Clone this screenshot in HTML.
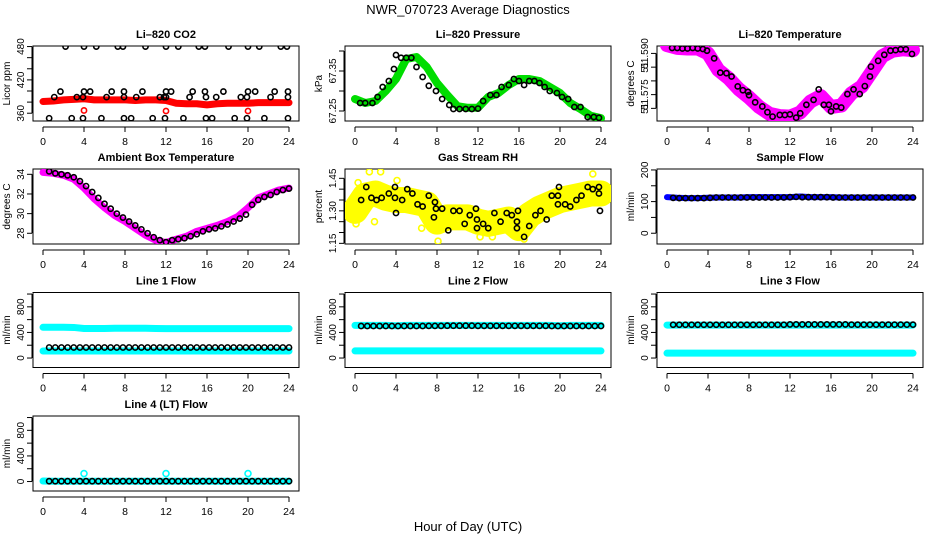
<!DOCTYPE html>
<html><head><meta charset="utf-8"><style>
html,body{margin:0;padding:0;background:#fff}
svg{display:block}
text{font-family:"Liberation Sans",sans-serif;fill:#000}
</style></head><body>
<svg id="chart" width="936" height="540" viewBox="0 0 936 540" xmlns="http://www.w3.org/2000/svg">
<text x="468" y="14" font-size="13" text-anchor="middle">NWR_070723  Average Diagnostics</text>
<text x="468" y="531" font-size="13" text-anchor="middle">Hour of Day (UTC)</text>
</svg>
<script>
// shared hour positions for regularly sampled black circles
const hrs40 = [0.6,1.2,1.8,2.4,3.0,3.6,4.2,4.8,5.4,6.0,6.6,7.2,7.8,8.4,9.0,9.6,10.2,10.8,11.4,12.0,12.6,13.2,13.8,14.4,15.0,15.6,16.2,16.8,17.4,18.0,18.6,19.2,19.8,20.4,21.0,21.6,22.2,22.8,23.4,24.0];
const bandHrs = [0,1,2,3,4,5,6,7,8,9,10,11,12,13,14,15,16,17,18,19,20,21,22,23,24];
const xTicks = [0,4,8,12,16,20,24];

// CO2
const co2BlackX = [2.2,4,5.2,7.3,7.8,10,12,13.2,15.2,15.8,18.1,20,21.1,23.2,23.8, 1.7,4,4.6,6.7,7.9,9.7,12,12.5,14.6,15.8,17.6,20,20.7,22.6,23.9, 1.1,3.3,3.9,6.2,7.9,9.1,11.4,11.8,12,14.3,15.9,16.9,19.3,19.9,22.2,23.9, 0.6,2.8,3.9,5.7,7.9,8.6,10.7,11.9,13.7,15.9,16.5,18.7,19.9,21.6,23.9];
const co2BlackY = [480,480,480,480,480,480,480,480,480,480,480,480,480,480,480, 399,399,399,399,399,399,399,399,399,399,399,399,399,399,399, 389,389,389,389,389,389,389,389,389,389,389,389,389,389,389,389, 351,351,351,351,351,351,351,351,351,351,351,351,351,351,351];
const co2Red = [381,382,384,385,386,384,384,384,384,383,384,384,383,378,377,377,375,377,378,378,378,379,379,379,379];
const co2RedPtsX = [4,12,20];
const co2RedPtsY = [365,364,364];

// Pressure
const presX = [0.5,1,1.7,2.2,2.7,3.3,3.8,4,4.5,5,5.5,6,6.6,7.2,7.9,8.5,9.2,9.6,10.2,10.8,11.4,12,12.5,13.2,13.8,14.3,15,15.5,16,16.5,17,17.5,18,18.5,19,19.7,20.2,20.8,21.4,22,22.7,23.3,23.8];
const presY = [67.27,67.27,67.27,67.285,67.31,67.325,67.355,67.39,67.383,67.383,67.383,67.36,67.335,67.313,67.30,67.28,67.265,67.255,67.255,67.255,67.255,67.256,67.275,67.29,67.29,67.31,67.315,67.33,67.325,67.315,67.325,67.325,67.32,67.31,67.30,67.295,67.285,67.28,67.26,67.26,67.235,67.235,67.233];
const presGreen = [67.28,67.27,67.275,67.3,67.33,67.38,67.385,67.36,67.32,67.29,67.262,67.258,67.258,67.285,67.295,67.315,67.33,67.33,67.325,67.31,67.295,67.27,67.255,67.238,67.232];

// Li-820 temperature
const ltX = [0.5,1,1.5,2,2.5,3,3.5,3.9,4.6,5.2,5.8,6.3,6.9,7.4,7.9,8,8.6,9.3,9.8,10.3,11,11.5,12,12.6,13,13.6,14.3,14.8,15.3,15.8,16,16.5,17,17.6,18.2,18.8,19.3,19.8,19.9,20.6,21.2,21.8,22.3,22.8,23.3,23.9];
const ltY = [51.592,51.592,51.5918,51.5918,51.592,51.5918,51.5916,51.591,51.5882,51.583,51.5828,51.5816,51.578,51.5766,51.576,51.5748,51.5722,51.5707,51.5686,51.567,51.5676,51.5676,51.5678,51.5666,51.5682,51.5713,51.5731,51.5769,51.5713,51.5713,51.5689,51.5707,51.5703,51.5752,51.5769,51.5752,51.5781,51.5816,51.5852,51.5873,51.5895,51.591,51.5912,51.5915,51.5915,51.5898];
const ltBand = [51.593,51.592,51.5918,51.5918,51.590,51.584,51.581,51.577,51.574,51.5705,51.568,51.5672,51.567,51.5685,51.5725,51.5745,51.5705,51.571,51.5755,51.578,51.5835,51.589,51.591,51.5915,51.5912];

// Ambient box temp
const ambBand = [34.2,34.1,33.9,33.5,32.6,31.5,30.6,29.8,29.2,28.5,27.8,27.3,27.05,27.4,27.7,28.2,28.5,28.8,29.2,29.7,30.6,31.6,32,32.4,32.6];
const ambY = [34.3,34.1,34.0,33.9,33.7,33.3,32.8,32.2,31.6,31.0,30.5,30.0,29.6,29.2,28.8,28.4,28.0,27.6,27.3,27.1,27.3,27.4,27.5,27.7,27.9,28.2,28.4,28.5,28.7,28.9,29.2,29.5,29.9,30.9,31.4,31.7,31.9,32.2,32.4,32.55];

// Gas stream RH
const rhX = [0.6,1.1,1.6,2.1,2.6,3.3,3.9,3.9,4.0,4.6,5.1,5.6,6.1,6.6,7.2,7.8,7.9,7.7,8.5,9.1,9.6,10.2,10.7,11.2,11.8,11.9,11.9,12.5,13.0,13.6,14.2,14.8,15.3,15.8,15.9,15.8,16.5,17.0,17.6,18.1,18.7,19.2,19.8,19.9,19.8,20.5,21.0,21.6,22.1,22.7,23.2,23.8,23.8,23.9];
const rhY = [1.35,1.41,1.36,1.35,1.36,1.38,1.36,1.41,1.29,1.35,1.40,1.38,1.33,1.32,1.37,1.34,1.31,1.27,1.31,1.21,1.30,1.30,1.24,1.28,1.31,1.26,1.22,1.24,1.22,1.29,1.25,1.29,1.28,1.25,1.30,1.22,1.18,1.23,1.28,1.30,1.26,1.37,1.33,1.41,1.37,1.33,1.32,1.35,1.37,1.41,1.40,1.41,1.38,1.30];
const rhBand = [1.30,1.37,1.38,1.36,1.35,1.35,1.34,1.33,1.25,1.27,1.27,1.27,1.25,1.24,1.25,1.26,1.22,1.28,1.31,1.33,1.35,1.36,1.37,1.38,1.38];
const rhOutX = [1.4,2.5,8.1,1.9,0.1,16.5,23.2,6.5,12.2,0.3,4.1,13.4];
const rhOutY = [1.48,1.48,1.16,1.25,1.24,1.17,1.47,1.22,1.18,1.43,1.44,1.18];

// Flows
const sampleBand = [114,112,111,111,112,113,113,113,114,114,114,114,114,116,114,114,114,113,113,113,113,113,113,113,113];
const sampleY = [112,111,111,111,111,111,112,113,113,113,113,113,113,113,113,113,113,113,113,114,115,114,114,114,114,114,113,113,113,113,113,113,113,113,113,113,113,113,113,113];
const l1High = [480,480,480,478,462,462,462,465,465,465,465,462,460,460,460,460,460,460,460,460,460,460,460,460,460];
const l1Low = [110,110,110,110,110,110,110,110,110,110,110,110,110,110,110,110,110,110,110,110,110,110,110,110,110];
const l1Y = [165,165,165,165,165,165,165,165,165,165,165,165,165,165,165,165,165,165,165,165,165,165,165,165,165,165,165,165,165,165,165,165,165,165,165,165,165,165,165,165];
const l2High = [510,510,510,510,505,510,510,510,510,510,510,510,510,510,510,510,510,510,510,510,505,510,510,510,510];
const l2Low = [111,111,111,111,111,111,111,111,111,111,111,111,111,111,111,111,111,111,111,111,111,111,111,111,111];
const l2Y = [500,500,500,500,500,500,500,500,500,500,500,502,502,502,505,505,505,505,505,503,503,503,503,503,503,503,503,503,503,503,503,500,500,500,500,500,500,500,500,500];
const l3High = [515,515,515,515,515,515,515,515,515,515,515,515,515,515,515,515,515,515,515,515,515,515,515,515,515];
const l3Low = [76,76,76,76,76,76,76,76,76,76,76,76,76,76,76,76,76,76,76,76,76,76,76,76,76];
const l3Y = [520,520,520,520,520,520,520,520,520,520,520,520,520,520,520,520,520,520,520,525,525,525,525,525,525,525,525,525,525,522,522,522,522,522,522,522,522,522,522,522];
const l4Low = [8,5,5,5,5,5,5,5,5,5,5,5,5,5,5,5,5,5,5,5,5,5,5,5,5];
const l4Y = [5,5,5,5,5,5,5,5,5,5,5,5,5,5,5,5,5,5,5,5,5,5,5,5,5,5,5,5,5,5,5,5,5,5,5,5,5,5,5,5];
const l4SpikeX = [4,12,20];
const l4SpikeY = [125,125,125];

const flowTicks = [0,200,400,600,800,1000];
const flowLabels = ["0","","400","","800",""];

const NS = "http://www.w3.org/2000/svg";
const svg = document.getElementById('chart');
const colX0 = [43,355,667];
const rowTop = [46,169,292.5,416];
const plotW = 246, boxH = 75;

function mk(tag, attrs, parent){
  const e = document.createElementNS(NS, tag);
  for (const k in attrs) e.setAttribute(k, attrs[k]);
  (parent||svg).appendChild(e);
  return e;
}

function panel(name, col, row, title, ylab, vbot, vtop, yTicks, yLabels){
  const x0 = colX0[col], top = rowTop[row];
  const g = mk('g', {});
  
  
  const xs = h => x0 + h / 24 * plotW;
  const ys = v => top + boxH - (v - vbot) / (vtop - vbot) * boxH;
  const bl = x0 - 10, br = x0 + plotW + 10, bb = top + boxH;
  const box = mk('rect', {x:bl, y:top, width:br-bl, height:boxH, fill:'none', stroke:'#000', 'stroke-width':1}, g);
  
  
  const t = mk('text', {x:(bl+br)/2, y:top-8, 'font-size':11, 'font-weight':'bold', 'text-anchor':'middle'}, g);
  t.textContent = title;
  
  
  // x axis
  const xa = mk('g', {}, g);
  
  
  mk('line', {x1:xs(0), x2:xs(24), y1:bb+6, y2:bb+6, stroke:'#000'}, xa);
  xTicks.forEach(h => {
    mk('line', {x1:xs(h), x2:xs(h), y1:bb+6, y2:bb+11, stroke:'#000'}, xa);
    const tl = mk('text', {x:xs(h), y:bb+24, 'font-size':10.5, 'text-anchor':'middle'}, xa);
    tl.textContent = h;
  });
  // y axis
  const ya = mk('g', {}, g);
  
  
  const ax = bl - 1;
  mk('line', {x1:ax, x2:ax, y1:ys(yTicks[0]), y2:ys(yTicks[yTicks.length-1]), stroke:'#000'}, ya);
  yTicks.forEach((v,i) => {
    mk('line', {x1:ax-5, x2:ax, y1:ys(v), y2:ys(v), stroke:'#000'}, ya);
    if (yLabels[i]) {
      const tl = mk('text', {x:0, y:0, 'font-size':10, 'text-anchor':'middle', transform:`translate(${ax-8},${ys(v)}) rotate(-90)`}, ya);
      tl.textContent = yLabels[i];
    }
  });
  const yl = mk('text', {x:0, y:0, 'font-size':10, 'text-anchor':'middle', transform:`translate(${bl-23},${top+boxH/2}) rotate(-90)`}, g);
  yl.textContent = ylab;
  
  
  const clip = 'clip-' + name;
  const cp = mk('clipPath', {id:clip}, g);
  mk('rect', {x:bl, y:top, width:br-bl, height:boxH}, cp);
  const data = mk('g', {'clip-path':`url(#${clip})`}, g);
  return {
    band(hArr, vArr, color, w, label){
      const pl = mk('polyline', {points:hArr.map((h,i)=>xs(h)+','+ys(vArr[i])).join(' '), fill:'none', stroke:color, 'stroke-width':w, 'stroke-linejoin':'round', 'stroke-linecap':'round'}, data);
      
      
    },
    pts(hArr, vArr, color, label, r){
      const pg = mk('g', {}, data);
      
      
      hArr.forEach((h,i) => {
        mk('circle', {cx:xs(h), cy:ys(vArr[i]), r:r||2.6, fill:'none', stroke:color, 'stroke-width':1.6}, pg);
      });
    }
  };
}

// Row 1
let p = panel('co2', 0, 0, 'Li\u2013820 CO2', 'Licor ppm', 346, 481, [360,380,400,420,440,460,480], ['360','','','420','','','480']);
p.band(bandHrs, co2Red, '#ff0000', 7, 'co2-red-band');
p.pts(co2RedPtsX, co2RedPtsY, '#ff0000', 'co2-red-points');
p.pts(co2BlackX, co2BlackY, '#000', 'co2-black-points');

p = panel('pressure', 1, 0, 'Li\u2013820 Pressure', 'kPa', 67.225, 67.4125, [67.25,67.30,67.35,67.40], ['67.25','','67.35','']);
p.band(bandHrs, presGreen, '#00dd00', 8, 'pressure-green-band');
p.pts(presX, presY, '#000', 'pressure-black-points');

p = panel('li-temp', 2, 0, 'Li\u2013820 Temperature', 'degrees C', 51.5654, 51.5927, [51.570,51.575,51.580,51.585,51.590], ['51','51.575','','51','51.590']);
p.band(bandHrs, ltBand, '#ff00ff', 14, 'li-temp-magenta-band');
p.pts(ltX, ltY, '#000', 'li-temp-black-points');

// Row 2
p = panel('ambient', 0, 1, 'Ambient Box Temperature', 'degrees C', 26.91, 34.54, [28,30,32,34], ['28','30','32','34']);
p.band(bandHrs, ambBand, '#ff00ff', 7, 'ambient-magenta-band');
p.pts(hrs40, ambY, '#000', 'ambient-black-points');

p = panel('rh', 1, 1, 'Gas Stream RH', 'percent', 1.147, 1.493, [1.15,1.20,1.25,1.30,1.35,1.40,1.45], ['1.15','','','1.30','','','1.45']);
p.band(bandHrs, rhBand, '#ffff00', 26, 'rh-yellow-band');
p.pts(rhOutX, rhOutY, '#ffff00', 'rh-yellow-points', 3);
p.pts(rhX, rhY, '#000', 'rh-black-points');

p = panel('sample-flow', 2, 1, 'Sample Flow', 'ml/min', -34, 203, [0,50,100,150,200], ['0','','100','','200']);
p.band(bandHrs, sampleBand, '#0000ff', 6, 'sample-blue-band');
p.pts(hrs40, sampleY, '#000', 'sample-black-points');

// Row 3
p = panel('line1', 0, 2, 'Line 1 Flow', 'ml/min', -148, 1024, flowTicks, flowLabels);
p.band(bandHrs, l1High, '#00ffff', 7, 'line1-cyan-high');
p.band(bandHrs, l1Low, '#00ffff', 7, 'line1-cyan-low');
p.pts(hrs40, l1Y, '#000', 'line1-black-points');

p = panel('line2', 1, 2, 'Line 2 Flow', 'ml/min', -148, 1024, flowTicks, flowLabels);
p.band(bandHrs, l2High, '#00ffff', 7, 'line2-cyan-high');
p.band(bandHrs, l2Low, '#00ffff', 7, 'line2-cyan-low');
p.pts(hrs40, l2Y, '#000', 'line2-black-points');

p = panel('line3', 2, 2, 'Line 3 Flow', 'ml/min', -148, 1024, flowTicks, flowLabels);
p.band(bandHrs, l3High, '#00ffff', 7, 'line3-cyan-high');
p.band(bandHrs, l3Low, '#00ffff', 7, 'line3-cyan-low');
p.pts(hrs40, l3Y, '#000', 'line3-black-points');

// Row 4
p = panel('line4', 0, 3, 'Line 4 (LT) Flow', 'ml/min', -148, 1024, flowTicks, flowLabels);
p.band(bandHrs, l4Low, '#00ffff', 7, 'line4-cyan-low');
p.pts(l4SpikeX, l4SpikeY, '#00ffff', 'line4-cyan-spikes', 3);
p.pts(hrs40, l4Y, '#000', 'line4-black-points');
</script>
</body></html>
